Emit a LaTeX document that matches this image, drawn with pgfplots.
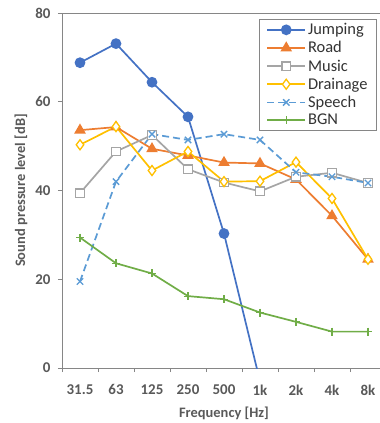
\documentclass[border=0pt]{standalone}
\usepackage{pgfplots}
\pgfplotsset{compat=1.18}
\usepackage{fontspec}
\setmainfont{Carlito}
\definecolor{cJ}{HTML}{4472C4}
\definecolor{cR}{HTML}{ED7D31}
\definecolor{cM}{HTML}{A5A5A5}
\definecolor{cD}{HTML}{FFC000}
\definecolor{cS}{HTML}{5B9BD5}
\definecolor{cB}{HTML}{70AD47}
\definecolor{axgray}{HTML}{868686}
\definecolor{txtgray}{HTML}{595959}
\begin{document}
\begin{tikzpicture}
\useasboundingbox (-62bp,-55bp) rectangle (318bp,368bp);
\clip (-62bp,-55bp) rectangle (318bp,368bp);
\begin{axis}[
  at={(0bp,0bp)}, anchor=south west,
  scale only axis, width=324bp, height=355bp,
  xmin=-0.5, xmax=8.5, ymin=0, ymax=80,
  xtick={0,...,8},
  xticklabels={31.5,63,125,250,500,1k,2k,4k,8k},
  minor xtick={-0.5,0.5,...,8.5},
  ytick={0,20,40,60,80},
  major tick length=4bp,
  minor tick length=4bp,
  tick align=outside,
  tick pos=left,
  major x tick style={draw=none},
  tick style={draw=axgray, line width=0.8bp},
  axis line style={draw=axgray, line width=0.9bp},
  /pgf/number format/assume math mode=true,
  tick label style={font=\bfseries\fontsize{15}{18}\selectfont, text=txtgray},
  yticklabel style={xshift=-4bp},
  xticklabel style={yshift=-9bp},
  xlabel={Frequency [Hz]},
  ylabel={Sound pressure level [dB]},
  label style={font=\bfseries\fontsize{14.5}{17}\selectfont, text=txtgray},
  xlabel style={yshift=-5bp},
  ylabel style={yshift=1bp},
  legend cell align=left,
  legend style={at={(rel axis cs:0.972,0.983)}, anchor=north east,
    draw=axgray, line width=0.8bp, font=\fontsize{16.5}{18}\selectfont, text=black!80,
    row sep=2.3bp, inner xsep=7bp, inner ysep=2.5bp,
    nodes={inner ysep=1.5bp}},
  legend image code/.code={\draw[mark repeat=2,mark phase=2] plot coordinates {(0bp,0bp) (19bp,0bp) (38bp,0bp)};},
  every axis plot/.append style={line width=1.7bp},
]
\addplot[color=cJ, mark=*, mark size=4.5bp, mark options={solid, fill=cJ}] coordinates {
(0,68.8) (1,73.1) (2,64.4) (3,56.6) (4,30.3) (5,-3)};
\addlegendentry{Jumping}
\addplot[color=cR, mark=triangle*, mark size=5bp, mark options={solid, fill=cR}] coordinates {
(0,53.6) (1,54.3) (2,49.4) (3,47.9) (4,46.3) (5,46.1) (6,42.5) (7,34.3) (8,24.5)};
\addlegendentry{Road}
\addplot[color=cM, mark=square*, mark size=4.3bp, mark options={solid, fill=white, line width=1.3bp}] coordinates {
(0,39.4) (1,48.8) (2,52.5) (3,44.8) (4,41.8) (5,39.8) (6,43.1) (7,44.0) (8,41.7)};
\addlegendentry{Music}
\addplot[color=cD, mark=diamond*, mark size=5bp, mark options={solid, fill=white, line width=1.3bp}] coordinates {
(0,50.3) (1,54.4) (2,44.5) (3,48.8) (4,42.0) (5,42.1) (6,46.4) (7,38.2) (8,24.5)};
\addlegendentry{Drainage}
\addplot[color=cS, dash pattern=on 7bp off 4bp, mark=x, mark size=4.5bp, mark options={solid, line width=1.3bp}] coordinates {
(0,19.5) (1,42.0) (2,52.7) (3,51.4) (4,52.7) (5,51.4) (6,44.1) (7,43.1) (8,41.7)};
\addlegendentry{Speech}
\addplot[color=cB, mark=+, mark size=4bp, mark options={solid, line width=1.2bp}] coordinates {
(0,29.4) (1,23.6) (2,21.3) (3,16.2) (4,15.5) (5,12.5) (6,10.4) (7,8.2) (8,8.2)};
\addlegendentry{BGN}
\end{axis}
\end{tikzpicture}
\end{document}
